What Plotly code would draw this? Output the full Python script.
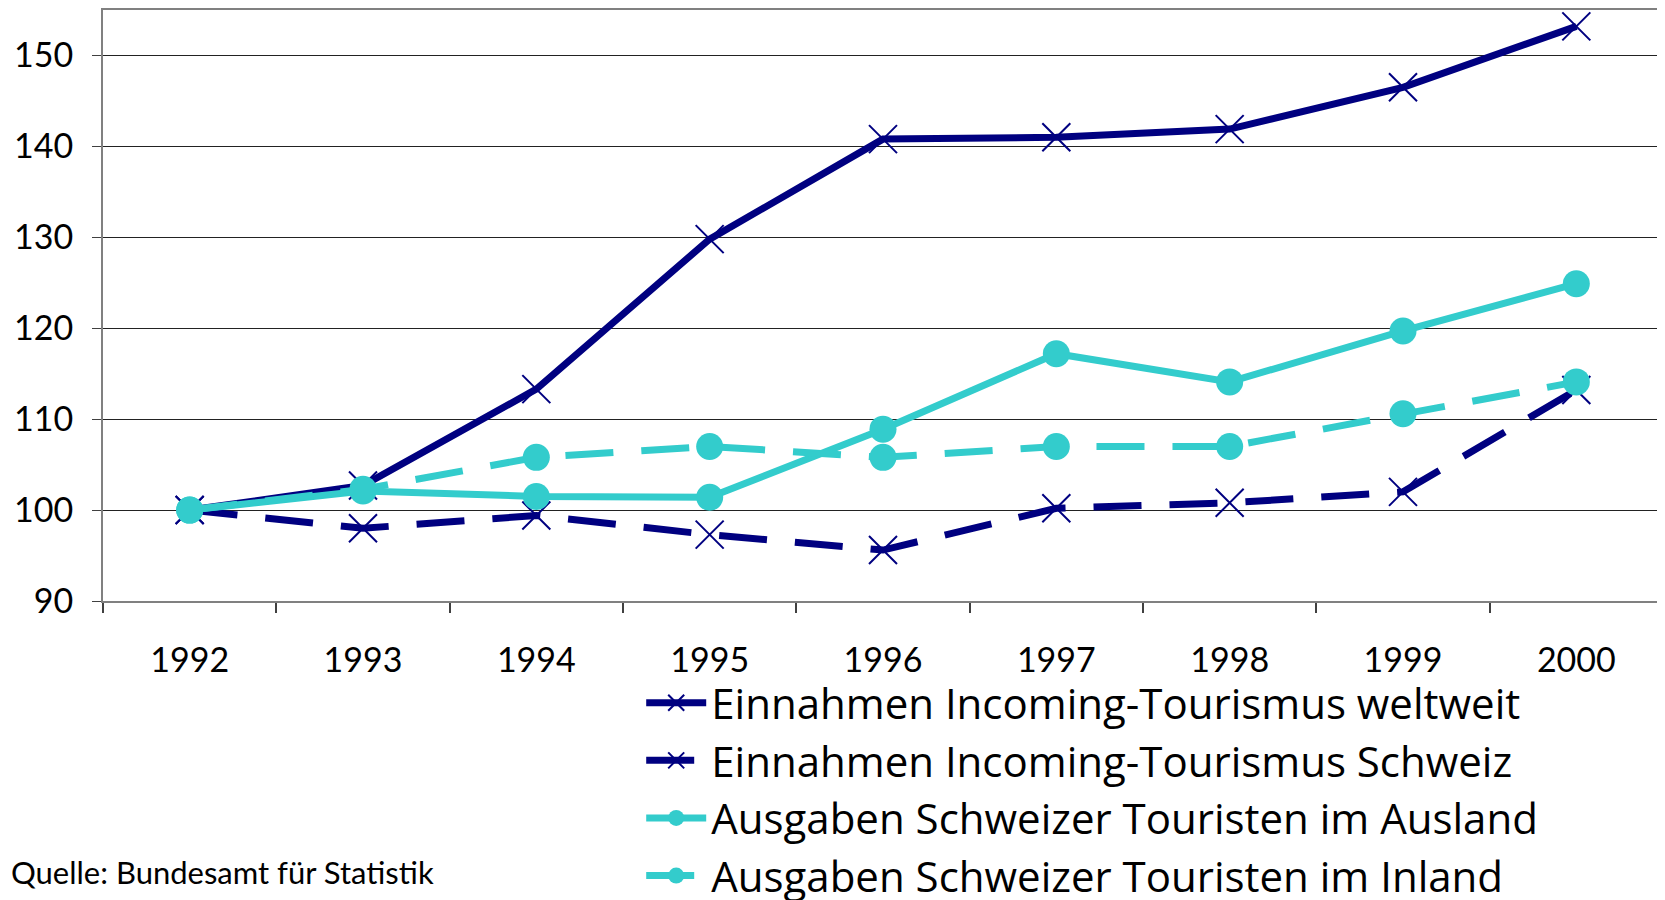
import plotly.graph_objects as go

YEARS = ["1992", "1993", "1994", "1995", "1996", "1997", "1998", "1999", "2000"]
INCOMING_WORLD = [100, 102.7, 113.3, 129.8, 140.8, 141.0, 141.9, 146.5, 153.2]
INCOMING_CH = [100, 98.0, 99.4, 97.3, 95.6, 100.2, 100.8, 102.0, 113.2]
SPEND_ABROAD = [100, 102.1, 101.5, 101.4, 108.9, 117.2, 114.1, 119.7, 124.9]
SPEND_HOME = [100, 102.3, 105.8, 107.0, 105.8, 107.0, 107.0, 110.6, 114.1]

NAVY = "#000080"
TURQ = "#33CCCC"
FONT = "Lato, 'Open Sans', sans-serif"
LEGEND_FONT = "'Open Sans', Lato, sans-serif"

SERIES = [
    ("Einnahmen Incoming-Tourismus weltweit", INCOMING_WORLD, NAVY, "solid", "x-thin"),
    ("Einnahmen Incoming-Tourismus Schweiz", INCOMING_CH, NAVY, "48px,28px", "x-thin"),
    ("Ausgaben Schweizer Touristen im Ausland", SPEND_ABROAD, TURQ, "solid", "circle"),
    ("Ausgaben Schweizer Touristen im Inland", SPEND_HOME, TURQ, "48px,28px", "circle"),
]

fig = go.Figure()
for name, vals, color, dash, symbol in SERIES:
    if symbol == "circle":
        marker = dict(symbol="circle", size=27, color=color)
    else:
        marker = dict(symbol="x-thin", size=28, color=color, line=dict(color=color, width=2))
    fig.add_trace(go.Scatter(
        x=YEARS, y=vals,
        mode="lines+markers",
        name=name,
        line=dict(color=color, width=7, dash=dash),
        marker=marker,
    ))

# the page body has an 8px margin, so the margins below are shifted by 8px
fig.update_layout(
    width=1665, height=900,
    margin=dict(l=95, r=10, t=2, b=307, autoexpand=False),
    paper_bgcolor="white",
    plot_bgcolor="white",
    font=dict(family=FONT, color="black", size=34),
    showlegend=True,
    legend=dict(
        x=0.345, y=-0.115, xanchor="left", yanchor="top",
        font=dict(size=42, family=LEGEND_FONT),
        bgcolor="rgba(0,0,0,0)",
        itemwidth=60,
    ),
    annotations=[dict(
        text="Quelle: Bundesamt für Statistik",
        xref="paper", yref="paper",
        x=-0.0605, y=-0.459, xanchor="left", yanchor="middle",
        showarrow=False,
        font=dict(size=31, family=FONT),
    )],
)

fig.update_xaxes(
    type="category", automargin=False,
    range=[-0.5, len(YEARS) - 0.5],
    showline=True, linecolor="#808080", linewidth=2, mirror=True,
    ticks="outside", tickson="boundaries", ticklen=10, tickcolor="#404040", tickwidth=2,
    ticklabelstandoff=28,
    showgrid=False,
    tickfont=dict(size=34),
)
fig.update_yaxes(
    range=[90, 155], automargin=False,
    tickvals=[90, 100, 110, 120, 130, 140, 150],
    showline=True, linecolor="#808080", linewidth=2, mirror=True,
    ticks="outside", ticklen=9, tickcolor="#404040", tickwidth=1,
    ticklabelstandoff=12,
    showgrid=True, gridcolor="#222222", gridwidth=1,
    zeroline=False,
    tickfont=dict(size=34),
)

fig.write_html("out.html")
